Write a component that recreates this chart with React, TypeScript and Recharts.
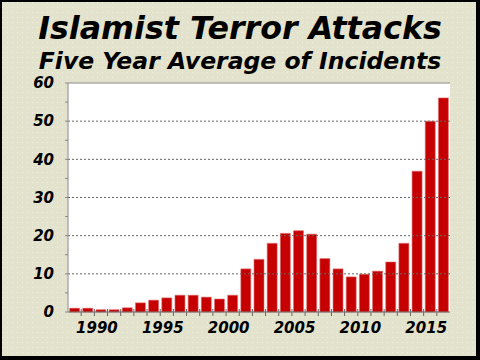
import React from "react";
import { Bar, BarChart, CartesianGrid, ReferenceLine, XAxis, YAxis } from "recharts";

// years and five year average of incidents
const years = [
  1988, 1989, 1990, 1991, 1992, 1993, 1994, 1995, 1996, 1997,
  1998, 1999, 2000, 2001, 2002, 2003, 2004, 2005, 2006, 2007,
  2008, 2009, 2010, 2011, 2012, 2013, 2014, 2015, 2016,
];
const incidents = [
  1.0, 1.0, 0.6, 0.6, 1.1, 2.4, 3.1, 3.7, 4.4, 4.4,
  3.9, 3.4, 4.4, 11.3, 13.8, 18.0, 20.6, 21.3, 20.4, 14.0,
  11.3, 9.2, 9.9, 10.7, 13.1, 18.0, 36.9, 50.0, 56.1,
];
const yTicks = [0, 5, 10, 15, 20, 25, 30, 35, 40, 45, 50, 55, 60];
const gridValues = [10, 20, 30, 40, 50];
const labelEvery = 5;

const title = "Islamist Terror Attacks";
const subtitle = "Five Year Average of Incidents";

const data = years.map((year, i) => ({ year, value: incidents[i] }));

const FONT = "'DejaVu Sans', Verdana, sans-serif";
const TICK_SIZE = 4;
const TICK_MARGIN = 6;

const tickFont = {
  fill: "#000",
  fontSize: 15,
  fontWeight: "bold",
  fontStyle: "italic",
  fontFamily: FONT,
};

// tick marks sit between the bars, labels only every fifth year
const YearTick = (props: any) => {
  const { x, y, payload, index } = props;
  const axisY = y - TICK_SIZE - TICK_MARGIN;
  const left = x - (payload.offset || 0);
  return (
    <g>
      {index > 0 && (
        <line x1={left} x2={left} y1={axisY - 3} y2={axisY + 4} stroke="#666" strokeWidth={1} />
      )}
      {payload.value % labelEvery === 0 && (
        <text x={x - 4} y={y} dy="0.71em" textAnchor="middle" {...tickFont}>
          {payload.value}
        </text>
      )}
    </g>
  );
};

export default function App() {
  return (
    <div
      style={{
        position: "absolute",
        left: 0,
        top: 0,
        width: 480,
        height: 360,
        backgroundColor: "#E3E3CD",
        backgroundImage: "radial-gradient(rgba(255,255,255,0.45) 0.5px, transparent 0.9px)",
        backgroundSize: "5px 5px",
        overflow: "hidden",
      }}
    >
      <BarChart
        width={480}
        height={360}
        data={data}
        margin={{ top: 83, right: 30, left: 0, bottom: 18 }}
        barCategoryGap="12%"
        style={{ position: "absolute", left: 0, top: 0 }}
      >
        <CartesianGrid horizontal={false} vertical={false} fill="#FFFFFF" fillOpacity={1} />
        {gridValues.map((v) => (
          <ReferenceLine key={v} y={v} stroke="#666" strokeDasharray="2 2" />
        ))}
        <ReferenceLine y={60} stroke="#888" />
        <XAxis
          dataKey="year"
          interval={0}
          height={30}
          tickSize={TICK_SIZE}
          tickMargin={TICK_MARGIN}
          tickLine={false}
          axisLine={{ stroke: "#666" }}
          tick={<YearTick />}
        />
        <YAxis
          domain={[0, 60]}
          ticks={yTicks}
          width={68}
          interval={0}
          tickSize={3}
          tickMargin={11}
          tickLine={{ stroke: "#888" }}
          axisLine={{ stroke: "#888" }}
          tick={tickFont}
          tickFormatter={(v: number) => (v % 10 === 0 ? `${v}` : "")}
        />
        <YAxis
          yAxisId="frame"
          orientation="right"
          width={0}
          tick={false}
          tickLine={false}
          axisLine={{ stroke: "#888" }}
        />
        <Bar dataKey="value" fill="#C60000" stroke="#E07070" strokeWidth={0.6} isAnimationActive={false} />
      </BarChart>
      <svg width={480} height={360} style={{ position: "absolute", left: 0, top: 0, pointerEvents: "none" }}>
        <text x={240} y={39} textAnchor="middle" fontFamily={FONT} fontWeight="bold" fontStyle="italic" fontSize={31.7} fill="#000">
          {title}
        </text>
        <text x={240} y={68.5} textAnchor="middle" fontFamily={FONT} fontWeight="bold" fontStyle="italic" fontSize={23.5} fill="#000">
          {subtitle}
        </text>
      </svg>
      <div
        style={{
          position: "absolute",
          left: 0,
          top: 0,
          width: 480,
          height: 360,
          boxSizing: "border-box",
          borderTop: "2px solid #000",
          borderLeft: "2px solid #000",
          borderRight: "4px solid #000",
          borderBottom: "4px solid #000",
        }}
      />
    </div>
  );
}
